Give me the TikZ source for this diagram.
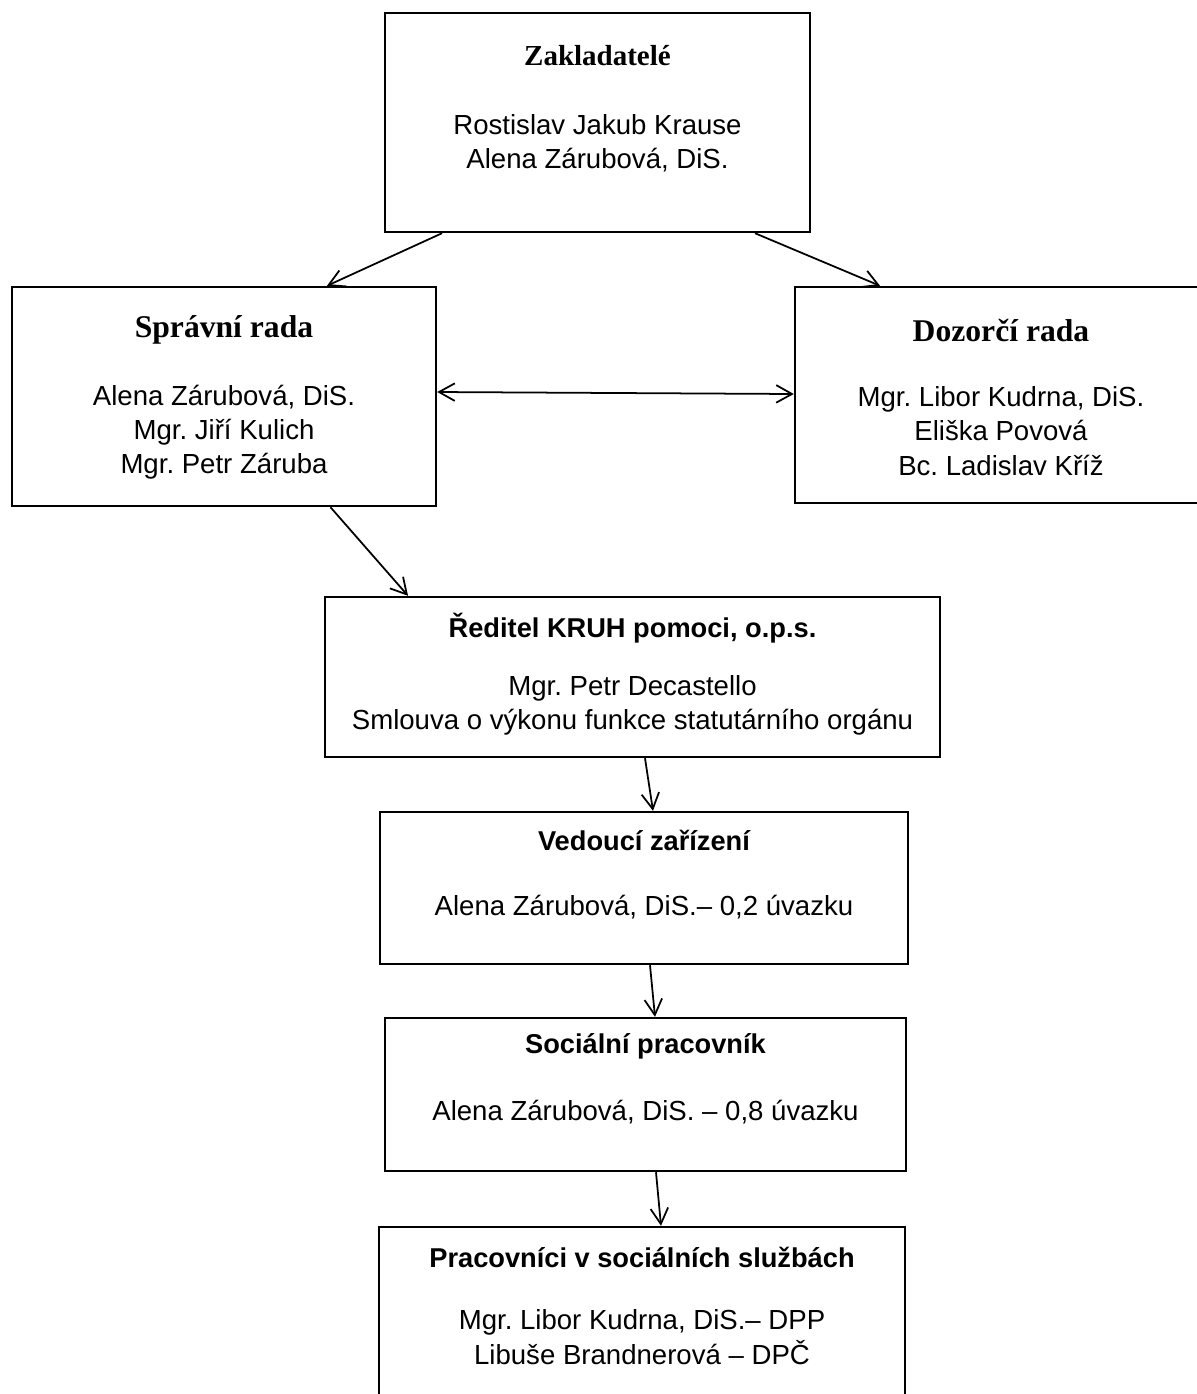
\documentclass[tikz,border=0pt]{standalone}
\usepackage{fontspec}
\setmainfont{Liberation Serif}
\setsansfont{Liberation Sans}
\usetikzlibrary{arrows.meta,positioning}
\frenchspacing

\begin{document}
\begin{tikzpicture}[x=0.02cm,y=-0.02cm]
        \tikzstyle{every path}=[line width=1pt]

        \tikzstyle{box}=[draw,line width=1.4pt,inner sep=0pt]
        \tikzstyle{ttl}=[draw=none,font=\bfseries\fontsize{18}{20}\selectfont]
        \tikzstyle{hd}=[draw=none,font=\sffamily\bfseries\fontsize{15.5}{18}\selectfont]
        \tikzstyle{names}=[draw=none,align=center,font=\sffamily\fontsize{15.7}{19.5}\selectfont]
        \tikzstyle{arr}=[-{Straight Barb[length=9pt,width=10pt]}]
        \tikzstyle{arrs}=[{Straight Barb[length=9pt,width=10pt]}-{Straight Barb[length=9pt,width=10pt]}]

        \useasboundingbox (0,0) rectangle (1197,1394);

        % the boxes
        \node [box,minimum width=8.5cm,minimum height=4.38cm] (zakl) at (597.5,122.5) {};
        \node [box,minimum width=8.48cm,minimum height=4.38cm] (sprava) at (224,396.5) {};
        \node [box,minimum width=8.24cm,minimum height=4.32cm] (dozor) at (1001,395) {};
        \node [box,minimum width=12.3cm,minimum height=3.2cm] (reditel) at (632.5,677) {};
        \node [box,minimum width=10.56cm,minimum height=3.04cm] (vedouci) at (644,888) {};
        \node [box,minimum width=10.42cm,minimum height=3.06cm] (socialni) at (645.5,1094.5) {};
        \node [box,minimum width=10.52cm,minimum height=4.26cm] (pracovnici) at (642,1333.5) {};

        % texts
        \node [ttl,font=\bfseries\fontsize{16.5}{19}\selectfont] (zakl_title) at (597.5,56) {Zakladatelé};
        \node [names] (zakl_names) at (597.5,143.5) {Rostislav Jakub Krause\\Alena Zárubová, DiS.};

        \node [ttl] (sprava_title) at (224,330) {Správní rada};
        \node [names] (sprava_names) at (224,432) {Alena Zárubová, DiS.\\Mgr. Jiří Kulich\\Mgr. Petr Záruba};

        \node [ttl] (dozor_title) at (1001,330) {Dozorčí rada};
        \node [names] (dozor_names) at (1001,431) {Mgr. Libor Kudrna, DiS.\\Eliška Povová\\Bc. Ladislav Kříž};

        \node [hd] (reditel_title) at (632.5,628) {Ředitel KRUH pomoci, o.p.s.};
        \node [names] (reditel_names) at (632.5,705) {Mgr. Petr Decastello\\Smlouva o výkonu funkce statutárního orgánu};

        \node [hd] (vedouci_title) at (644,840) {Vedoucí zařízení};
        \node [names] (vedouci_names) at (644,907) {Alena Zárubová, DiS.– 0,2 úvazku};

        \node [hd] (socialni_title) at (645.5,1046) {Sociální pracovník};
        \node [names] (socialni_names) at (645.5,1112) {Alena Zárubová, DiS. – 0,8 úvazku};

        \node [hd] (pracovnici_title) at (642,1257) {Pracovníci v sociálních službách};
        \node [names] (pracovnici_names) at (642,1337) {Mgr. Libor Kudrna, DiS.– DPP\\Libuše Brandnerová – DPČ};

        % arrows
        \draw [arr] ([xshift=-3.11cm]zakl.south) -- ([xshift=2.06cm]sprava.north);
        \draw [arr] ([xshift=3.15cm]zakl.south) -- ([xshift=-2.42cm]dozor.north);
        \draw [arrs] ([yshift=0.09cm]sprava.east) -- ([yshift=0.02cm]dozor.west);
        \draw [arr] ([xshift=2.13cm]sprava.south) -- ([xshift=-4.49cm]reditel.north);
        \draw [arr] ([xshift=0.25cm]reditel.south) -- ([xshift=0.18cm]vedouci.north);
        \draw [arr] ([xshift=0.12cm]vedouci.south) -- ([xshift=0.19cm]socialni.north);
        \draw [arr] ([xshift=0.21cm]socialni.south) -- ([xshift=0.38cm]pracovnici.north);
\end{tikzpicture}
\end{document}
